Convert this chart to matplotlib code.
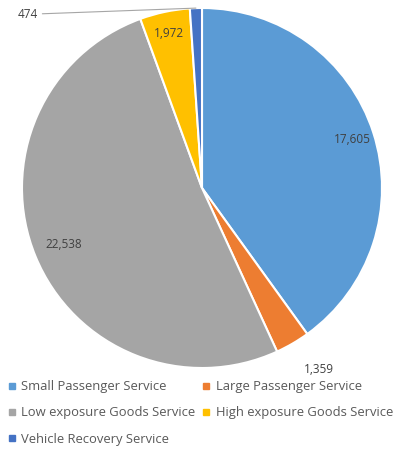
import numpy as np
import matplotlib.pyplot as plt
from matplotlib.lines import Line2D

categories = ["Small Passenger Service", "Large Passenger Service",
              "Low exposure Goods Service", "High exposure Goods Service",
              "Vehicle Recovery Service"]
values = [17605, 1359, 22538, 1972, 474]
colors = ["#5B9BD5", "#ED7D31", "#A5A5A5", "#FFC000", "#4472C4"]

plt.rcParams["font.family"] = ["Open Sans", "DejaVu Sans"]
txt_color = "#595959"

fig = plt.figure(figsize=(3.96, 4.5), dpi=100)
ax = fig.add_axes([22 / 396, 82 / 450, 360 / 396, 360 / 450])
wedges, _ = ax.pie(values, colors=colors, startangle=90, counterclock=False,
                   radius=1, wedgeprops=dict(edgecolor="white", linewidth=1.5))
ax.set_xlim(-1, 1)
ax.set_ylim(-1, 1)
ax.set_aspect("equal")
ax.axis("off")

# label radius for each slice (inside / outside like Excel "best fit")
label_r = [0.88, 1.17, 0.83, 0.88, None]
for w, v, r in zip(wedges, values, label_r):
    if r is None:
        continue
    mid = np.deg2rad((w.theta1 + w.theta2) / 2)
    dx = 0.06 if r > 1 else 0
    ax.text(r * np.cos(mid) + dx, r * np.sin(mid), f"{v:,}", ha="center", va="center",
            fontsize=8.5, color="#404040")

# smallest slice gets a leader line
w = wedges[4]
mid = np.deg2rad((w.theta1 + w.theta2) / 2)
ax.annotate(f"{values[4]:,}", xy=(np.cos(mid), np.sin(mid)), xytext=(-0.91, 0.965),
            ha="right", va="center", fontsize=8.5, color="#404040",
            arrowprops=dict(arrowstyle="-", color="#A6A6A6", lw=0.8,
                            shrinkA=1, shrinkB=0))

handles = [Line2D([], [], marker="s", linestyle="", markersize=4,
                  markerfacecolor=c, markeredgecolor=c) for c in colors]
order = [0, 2, 4, 1, 3]
fig.legend([handles[i] for i in order], [categories[i] for i in order],
           ncol=2, loc="upper left", bbox_to_anchor=(0.006, 0.167),
           frameon=False, fontsize=9.4, labelcolor=txt_color,
           handlelength=0.6, handletextpad=0.45, columnspacing=0.5,
           labelspacing=1.02, borderaxespad=0)

fig.savefig("out.png", dpi=100)
